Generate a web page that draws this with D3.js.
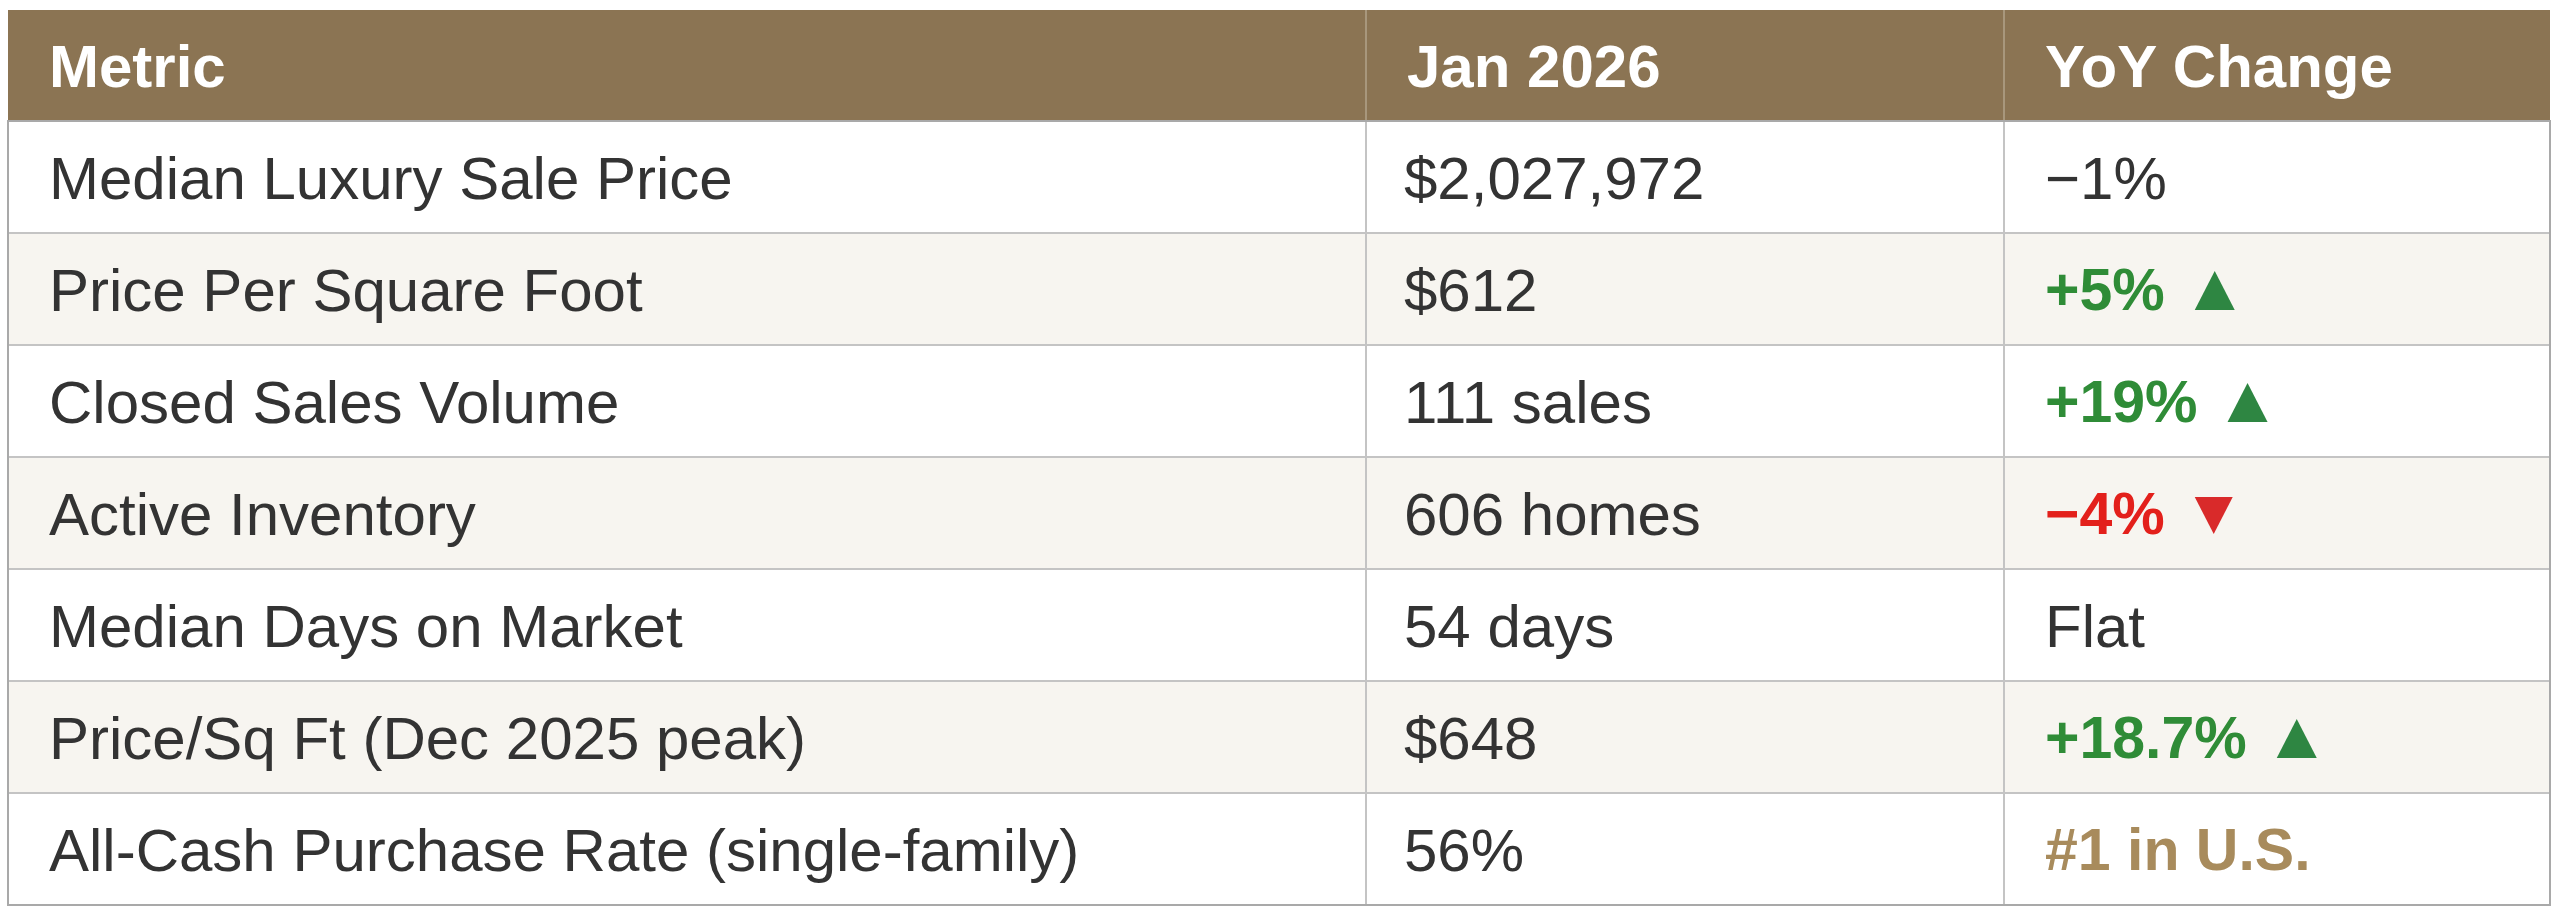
<!DOCTYPE html>
<html>
<head>
<meta charset="utf-8">
<script src="https://cdn.jsdelivr.net/npm/d3@7"></script>
<style>
  html, body { margin: 0; padding: 0; background: #ffffff; }
  svg { display: block; font-family: "Liberation Sans", Arial, Helvetica, sans-serif; }
</style>
</head>
<body>
<script>
// Table content
const headers = ["Metric", "Jan 2026", "YoY Change"];
const metrics = [
  "Median Luxury Sale Price",
  "Price Per Square Foot",
  "Closed Sales Volume",
  "Active Inventory",
  "Median Days on Market",
  "Price/Sq Ft (Dec 2025 peak)",
  "All-Cash Purchase Rate (single-family)"
];
const jan2026 = ["$2,027,972", "$612", "111 sales", "606 homes", "54 days", "$648", "56%"];
const yoyChange = ["\u22121%", "+5%", "+19%", "\u22124%", "Flat", "+18.7%", "#1 in U.S."];
const yoyTrend = ["none", "up", "up", "down", "none", "up", "rank"];

// Layout
const width = 2560, height = 915;
const tblLeft = 8, tblRight = 2550, tblTop = 10;
const headerH = 111, rowH = 112;
const colEdges = [tblLeft, 1366, 2004, tblRight];
const padX = 41;
const fontSize = 60;

const trendColor = { none: "#333333", up: "#2f8c37", down: "#e3201b", rank: "#a88b5c" };
const arrowColor = { up: "#2e8642", down: "#d92a2a" };

const svg = d3.select("body").append("svg")
  .attr("width", width)
  .attr("height", height);

const y = d3.scaleBand()
  .domain(d3.range(metrics.length))
  .range([tblTop + headerH, tblTop + headerH + rowH * metrics.length]);

const colX = i => colEdges[i];

// Header band
svg.append("rect")
  .attr("x", tblLeft).attr("y", tblTop)
  .attr("width", tblRight - tblLeft).attr("height", headerH)
  .attr("fill", "#8b7453");

svg.selectAll(".head")
  .data(headers)
  .enter()
  .append("text")
  .attr("class", "head")
  .attr("x", (d, i) => colX(i) + padX)
  .attr("y", tblTop + headerH / 2)
  .attr("dy", "0.36em")
  .attr("fill", "#ffffff")
  .attr("font-weight", "bold")
  .attr("font-size", 60)
  .text(d => d);

// Row backgrounds (zebra)
const rows = svg.selectAll(".row")
  .data(metrics)
  .enter()
  .append("g")
  .attr("class", "row")
  .attr("transform", (d, i) => `translate(0,${y(i)})`);

rows.append("rect")
  .attr("x", tblLeft).attr("width", tblRight - tblLeft)
  .attr("height", y.bandwidth())
  .attr("fill", (d, i) => i % 2 ? "#f7f5f0" : "#ffffff");

// Grid lines
svg.selectAll(".hline")
  .data(d3.range(1, metrics.length))
  .enter()
  .append("line")
  .attr("x1", tblLeft).attr("x2", tblRight)
  .attr("y1", i => y(i)).attr("y2", i => y(i))
  .attr("stroke", "#c4c4c4").attr("stroke-width", 2);

svg.selectAll(".vline")
  .data([1, 2])
  .enter()
  .append("line")
  .attr("x1", i => colX(i)).attr("x2", i => colX(i))
  .attr("y1", tblTop + headerH).attr("y2", y.range()[1])
  .attr("stroke", "#c4c4c4").attr("stroke-width", 2);

svg.selectAll(".vline-head")
  .data([1, 2])
  .enter()
  .append("line")
  .attr("x1", i => colX(i)).attr("x2", i => colX(i))
  .attr("y1", tblTop).attr("y2", tblTop + headerH)
  .attr("stroke", "#a8977c").attr("stroke-width", 2);

// Outer border
svg.append("rect")
  .attr("x", tblLeft).attr("y", tblTop + headerH)
  .attr("width", tblRight - tblLeft).attr("height", y.range()[1] - tblTop - headerH)
  .attr("fill", "none")
  .attr("stroke", "#a9a9a9").attr("stroke-width", 2);

// Cell text
rows.append("text")
  .attr("x", colX(0) + padX)
  .attr("y", rowH / 2)
  .attr("dy", "0.36em")
  .attr("fill", "#333333")
  .attr("font-size", fontSize)
  .text(d => d);

rows.append("text")
  .attr("x", colX(1) + padX - 3)
  .attr("y", rowH / 2)
  .attr("dy", "0.36em")
  .attr("fill", "#333333")
  .attr("font-size", fontSize)
  .text((d, i) => jan2026[i]);

const yoy = rows.append("text")
  .attr("x", colX(2) + padX)
  .attr("y", rowH / 2)
  .attr("dy", "0.36em")
  .attr("fill", (d, i) => trendColor[yoyTrend[i]])
  .attr("font-weight", (d, i) => yoyTrend[i] === "none" ? "normal" : "bold")
  .attr("font-size", (d, i) => yoyTrend[i] === "none" ? fontSize : 59)
  .text((d, i) => yoyChange[i]);

// Trend arrows after the YoY text
yoy.each(function(d, i) {
  const trend = yoyTrend[i];
  if (trend !== "up" && trend !== "down") return;
  const w = this.getComputedTextLength();
  const x0 = colX(2) + padX + w + 30;
  const base = rowH / 2 + 21;  // baseline of the text
  const tw = trend === "up" ? 40 : 38, th = trend === "up" ? 39 : 37;
  const pts = trend === "up"
    ? [[x0, base], [x0 + tw, base], [x0 + tw / 2, base - th]]
    : [[x0, base - th], [x0 + tw, base - th], [x0 + tw / 2, base]];
  d3.select(this.parentNode).append("path")
    .attr("d", d3.line()(pts) + "Z")
    .attr("fill", arrowColor[trend]);
});
</script>
</body>
</html>
